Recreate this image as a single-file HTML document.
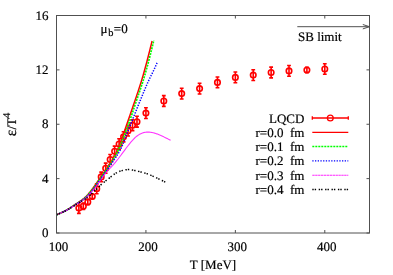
<!DOCTYPE html>
<html><head><meta charset="utf-8"><title>chart</title>
<style>html,body{margin:0;padding:0;background:#fff}svg{display:block}text{text-rendering:geometricPrecision}</style></head>
<body>
<svg width="393" height="275" viewBox="0 0 393 275">
<rect x="0" y="0" width="393" height="275" fill="#fff"/>
<g stroke="#ff0000" stroke-width="1.6" fill="none">
<path d="M78.86 202.80V213.40M76.96 202.80h3.8M76.96 213.40h3.8"/>
<circle cx="78.86" cy="208.10" r="2.75"/>
<path d="M83.33 203.10V209.50M81.43 203.10h3.8M81.43 209.50h3.8"/>
<circle cx="83.33" cy="206.30" r="2.75"/>
<path d="M87.80 199.40V204.60M85.90 199.40h3.8M85.90 204.60h3.8"/>
<circle cx="87.80" cy="202.00" r="2.75"/>
<path d="M92.27 194.40V198.60M90.37 194.40h3.8M90.37 198.60h3.8"/>
<circle cx="92.27" cy="196.50" r="2.75"/>
<path d="M96.74 183.90V193.70M94.84 183.90h3.8M94.84 193.70h3.8"/>
<circle cx="96.74" cy="188.80" r="2.75"/>
<path d="M101.21 172.10V181.70M99.31 172.10h3.8M99.31 181.70h3.8"/>
<circle cx="101.21" cy="176.90" r="2.75"/>
<path d="M105.69 163.10V173.30M103.79 163.10h3.8M103.79 173.30h3.8"/>
<circle cx="105.69" cy="168.20" r="2.75"/>
<path d="M110.16 154.50V164.50M108.26 154.50h3.8M108.26 164.50h3.8"/>
<circle cx="110.16" cy="159.50" r="2.75"/>
<path d="M114.63 146.10V156.30M112.73 146.10h3.8M112.73 156.30h3.8"/>
<circle cx="114.63" cy="151.20" r="2.75"/>
<path d="M119.10 138.80V149.20M117.20 138.80h3.8M117.20 149.20h3.8"/>
<circle cx="119.10" cy="144.00" r="2.75"/>
<path d="M123.57 131.70V141.90M121.67 131.70h3.8M121.67 141.90h3.8"/>
<circle cx="123.57" cy="136.80" r="2.75"/>
<path d="M128.04 125.40V136.00M126.14 125.40h3.8M126.14 136.00h3.8"/>
<circle cx="128.04" cy="130.70" r="2.75"/>
<path d="M132.51 119.80V130.60M130.61 119.80h3.8M130.61 130.60h3.8"/>
<circle cx="132.51" cy="125.20" r="2.75"/>
<path d="M136.99 116.30V127.10M135.09 116.30h3.8M135.09 127.10h3.8"/>
<circle cx="136.99" cy="121.70" r="2.75"/>
<path d="M145.93 107.70V118.50M144.03 107.70h3.8M144.03 118.50h3.8"/>
<circle cx="145.93" cy="113.10" r="2.75"/>
<path d="M163.81 95.60V106.40M161.91 95.60h3.8M161.91 106.40h3.8"/>
<circle cx="163.81" cy="101.00" r="2.75"/>
<path d="M181.70 88.20V99.00M179.80 88.20h3.8M179.80 99.00h3.8"/>
<circle cx="181.70" cy="93.60" r="2.75"/>
<path d="M199.59 83.20V94.00M197.69 83.20h3.8M197.69 94.00h3.8"/>
<circle cx="199.59" cy="88.60" r="2.75"/>
<path d="M217.47 77.00V87.80M215.57 77.00h3.8M215.57 87.80h3.8"/>
<circle cx="217.47" cy="82.40" r="2.75"/>
<path d="M235.36 72.00V82.80M233.46 72.00h3.8M233.46 82.80h3.8"/>
<circle cx="235.36" cy="77.40" r="2.75"/>
<path d="M253.24 69.70V80.50M251.34 69.70h3.8M251.34 80.50h3.8"/>
<circle cx="253.24" cy="75.10" r="2.75"/>
<path d="M271.13 67.10V77.90M269.23 67.10h3.8M269.23 77.90h3.8"/>
<circle cx="271.13" cy="72.50" r="2.75"/>
<path d="M289.01 65.50V76.30M287.11 65.50h3.8M287.11 76.30h3.8"/>
<circle cx="289.01" cy="70.90" r="2.75"/>
<path d="M306.90 67.40V72.60M305.00 67.40h3.8M305.00 72.60h3.8"/>
<circle cx="306.90" cy="70.00" r="2.75"/>
<path d="M324.79 63.80V74.20M322.89 63.80h3.8M322.89 74.20h3.8"/>
<circle cx="324.79" cy="69.00" r="2.75"/>
</g>
<path d="M56.50 214.80 L56.98 214.60 L57.46 214.40 L57.94 214.20 L58.42 214.00 L58.90 213.80 L59.38 213.59 L59.86 213.38 L60.34 213.18 L60.82 212.96 L61.30 212.75 L61.78 212.53 L62.26 212.31 L62.75 212.08 L63.23 211.85 L63.71 211.61 L64.19 211.37 L64.67 211.13 L65.15 210.88 L65.63 210.62 L66.11 210.35 L66.59 210.08 L67.07 209.80 L67.55 209.52 L68.03 209.23 L68.51 208.93 L68.99 208.63 L69.47 208.32 L69.95 208.02 L70.43 207.70 L70.91 207.39 L71.39 207.07 L71.87 206.75 L72.35 206.43 L72.83 206.10 L73.31 205.78 L73.79 205.45 L74.27 205.13 L74.76 204.80 L75.24 204.48 L75.72 204.16 L76.20 203.84 L76.68 203.52 L77.16 203.20 L77.64 202.88 L78.12 202.57 L78.60 202.25 L79.08 201.93 L79.56 201.61 L80.04 201.28 L80.52 200.95 L81.00 200.61 L81.48 200.27 L81.96 199.91 L82.44 199.55 L82.92 199.18 L83.40 198.80 L83.88 198.40 L84.36 198.00 L84.84 197.57 L85.32 197.14 L85.80 196.69 L86.28 196.22 L86.77 195.73 L87.25 195.22 L87.73 194.70 L88.21 194.16 L88.69 193.61 L89.17 193.04 L89.65 192.46 L90.13 191.86 L90.61 191.26 L91.09 190.64 L91.57 190.01 L92.05 189.37 L92.53 188.73 L93.01 188.07 L93.49 187.41 L93.97 186.74 L94.45 186.07 L94.93 185.39 L95.41 184.71 L95.89 184.02 L96.37 183.33 L96.85 182.64 L97.33 181.95 L97.81 181.27 L98.29 180.58 L98.78 179.89 L99.26 179.21 L99.74 178.52 L100.22 177.84 L100.70 177.15 L101.18 176.47 L101.66 175.78 L102.14 175.10 L102.62 174.41 L103.10 173.72 L103.58 173.04 L104.06 172.35 L104.54 171.65 L105.02 170.96 L105.50 170.26 L105.98 169.57 L106.46 168.86 L106.94 168.16 L107.42 167.45 L107.90 166.74 L108.38 166.02 L108.86 165.30 L109.34 164.58 L109.82 163.85 L110.31 163.10 L110.79 162.35 L111.27 161.58 L111.75 160.80 L112.23 160.01 L112.71 159.19 L113.19 158.36 L113.67 157.51 L114.15 156.63 L114.63 155.73 L115.11 154.80 L115.59 153.84 L116.07 152.86 L116.55 151.84 L117.03 150.79 L117.51 149.70 L117.99 148.58 L118.47 147.43 L118.95 146.24 L119.43 145.02 L119.91 143.78 L120.39 142.51 L120.87 141.22 L121.35 139.90 L121.83 138.58 L122.32 137.23 L122.80 135.87 L123.28 134.51 L123.76 133.14 L124.24 131.76 L124.72 130.38 L125.20 128.99 L125.68 127.61 L126.16 126.23 L126.64 124.84 L127.12 123.46 L127.60 122.07 L128.08 120.68 L128.56 119.29 L129.04 117.90 L129.52 116.51 L130.00 115.12 L130.48 113.73 L130.96 112.33 L131.44 110.94 L131.92 109.54 L132.40 108.15 L132.88 106.75 L133.36 105.35 L133.84 103.95 L134.33 102.55 L134.81 101.15 L135.29 99.75 L135.77 98.35 L136.25 96.94 L136.73 95.53 L137.21 94.11 L137.69 92.68 L138.17 91.25 L138.65 89.80 L139.13 88.33 L139.61 86.85 L140.09 85.35 L140.57 83.84 L141.05 82.30 L141.53 80.73 L142.01 79.14 L142.49 77.53 L142.97 75.88 L143.45 74.21 L143.93 72.51 L144.41 70.78 L144.89 69.04 L145.37 67.27 L145.85 65.48 L146.34 63.67 L146.82 61.84 L147.30 60.00 L147.78 58.14 L148.26 56.27 L148.74 54.39 L149.22 52.49 L149.70 50.59 L150.18 48.68 L150.66 46.77 L151.14 44.85 L151.62 42.92 L152.10 41.00" stroke="#ff0000" stroke-width="1.5" fill="none"/>
<path d="M56.50 214.80 L56.99 214.61 L57.48 214.41 L57.97 214.21 L58.46 214.01 L58.94 213.80 L59.43 213.59 L59.92 213.38 L60.41 213.16 L60.90 212.94 L61.39 212.72 L61.88 212.50 L62.37 212.27 L62.86 212.04 L63.35 211.81 L63.83 211.57 L64.32 211.33 L64.81 211.08 L65.30 210.83 L65.79 210.58 L66.28 210.31 L66.77 210.04 L67.26 209.76 L67.75 209.47 L68.23 209.18 L68.72 208.88 L69.21 208.57 L69.70 208.27 L70.19 207.96 L70.68 207.65 L71.17 207.34 L71.66 207.02 L72.15 206.71 L72.64 206.38 L73.12 206.06 L73.61 205.73 L74.10 205.40 L74.59 205.08 L75.08 204.75 L75.57 204.42 L76.06 204.10 L76.55 203.78 L77.04 203.47 L77.52 203.15 L78.01 202.84 L78.50 202.53 L78.99 202.21 L79.48 201.89 L79.97 201.56 L80.46 201.23 L80.95 200.88 L81.44 200.53 L81.93 200.18 L82.41 199.82 L82.90 199.46 L83.39 199.09 L83.88 198.71 L84.37 198.31 L84.86 197.91 L85.35 197.48 L85.84 197.05 L86.33 196.59 L86.81 196.11 L87.30 195.61 L87.79 195.09 L88.28 194.56 L88.77 194.01 L89.26 193.46 L89.75 192.89 L90.24 192.32 L90.73 191.74 L91.22 191.14 L91.70 190.52 L92.19 189.89 L92.68 189.24 L93.17 188.58 L93.66 187.92 L94.15 187.24 L94.64 186.57 L95.13 185.90 L95.62 185.22 L96.10 184.54 L96.59 183.85 L97.08 183.15 L97.57 182.45 L98.06 181.75 L98.55 181.04 L99.04 180.33 L99.53 179.62 L100.02 178.92 L100.51 178.22 L100.99 177.52 L101.48 176.83 L101.97 176.13 L102.46 175.44 L102.95 174.74 L103.44 174.04 L103.93 173.34 L104.42 172.64 L104.91 171.94 L105.39 171.23 L105.88 170.52 L106.37 169.82 L106.86 169.12 L107.35 168.42 L107.84 167.71 L108.33 166.99 L108.82 166.26 L109.31 165.52 L109.79 164.76 L110.28 163.98 L110.77 163.20 L111.26 162.42 L111.75 161.63 L112.24 160.84 L112.73 160.03 L113.22 159.22 L113.71 158.40 L114.20 157.56 L114.68 156.71 L115.17 155.84 L115.66 154.96 L116.15 154.06 L116.64 153.14 L117.13 152.20 L117.62 151.24 L118.11 150.25 L118.60 149.23 L119.08 148.18 L119.57 147.09 L120.06 145.98 L120.55 144.84 L121.04 143.68 L121.53 142.49 L122.02 141.29 L122.51 140.07 L123.00 138.83 L123.49 137.57 L123.97 136.31 L124.46 135.04 L124.95 133.76 L125.44 132.47 L125.93 131.18 L126.42 129.89 L126.91 128.57 L127.40 127.24 L127.89 125.89 L128.37 124.53 L128.86 123.15 L129.35 121.76 L129.84 120.35 L130.33 118.93 L130.82 117.51 L131.31 116.07 L131.80 114.63 L132.29 113.18 L132.78 111.73 L133.26 110.27 L133.75 108.81 L134.24 107.34 L134.73 105.88 L135.22 104.42 L135.71 102.95 L136.20 101.49 L136.69 100.04 L137.18 98.59 L137.66 97.15 L138.15 95.72 L138.64 94.29 L139.13 92.86 L139.62 91.43 L140.11 89.98 L140.60 88.53 L141.09 87.06 L141.58 85.58 L142.07 84.07 L142.55 82.54 L143.04 80.98 L143.53 79.39 L144.02 77.77 L144.51 76.11 L145.00 74.43 L145.49 72.72 L145.98 71.00 L146.47 69.25 L146.95 67.47 L147.44 65.68 L147.93 63.86 L148.42 62.02 L148.91 60.16 L149.40 58.27 L149.89 56.36 L150.38 54.43 L150.87 52.48 L151.36 50.50 L151.84 48.51 L152.33 46.49 L152.82 44.45 L153.31 42.38 L153.80 40.30" stroke="#00ff00" stroke-width="1.7" fill="none" stroke-dasharray="2 1"/>
<path d="M56.50 214.80 L57.01 214.60 L57.51 214.40 L58.02 214.19 L58.53 213.98 L59.04 213.77 L59.54 213.55 L60.05 213.33 L60.56 213.11 L61.06 212.88 L61.57 212.65 L62.08 212.42 L62.58 212.19 L63.09 211.95 L63.60 211.71 L64.11 211.46 L64.61 211.21 L65.12 210.96 L65.63 210.70 L66.13 210.44 L66.64 210.17 L67.15 209.89 L67.65 209.60 L68.16 209.31 L68.67 209.01 L69.18 208.70 L69.68 208.38 L70.19 208.07 L70.70 207.74 L71.20 207.42 L71.71 207.10 L72.22 206.78 L72.73 206.46 L73.23 206.13 L73.74 205.81 L74.25 205.48 L74.75 205.15 L75.26 204.82 L75.77 204.48 L76.27 204.15 L76.78 203.82 L77.29 203.48 L77.80 203.15 L78.30 202.82 L78.81 202.50 L79.32 202.18 L79.82 201.86 L80.33 201.53 L80.84 201.20 L81.34 200.86 L81.85 200.52 L82.36 200.16 L82.87 199.79 L83.37 199.40 L83.88 199.01 L84.39 198.60 L84.89 198.19 L85.40 197.76 L85.91 197.32 L86.42 196.87 L86.92 196.40 L87.43 195.93 L87.94 195.43 L88.44 194.92 L88.95 194.39 L89.46 193.83 L89.96 193.25 L90.47 192.66 L90.98 192.05 L91.49 191.42 L91.99 190.79 L92.50 190.15 L93.01 189.50 L93.51 188.85 L94.02 188.19 L94.53 187.50 L95.03 186.81 L95.54 186.10 L96.05 185.39 L96.56 184.67 L97.06 183.94 L97.57 183.21 L98.08 182.49 L98.58 181.77 L99.09 181.05 L99.60 180.33 L100.11 179.60 L100.61 178.88 L101.12 178.15 L101.63 177.42 L102.13 176.70 L102.64 175.97 L103.15 175.25 L103.65 174.53 L104.16 173.81 L104.67 173.10 L105.18 172.40 L105.68 171.70 L106.19 171.01 L106.70 170.31 L107.20 169.62 L107.71 168.93 L108.22 168.24 L108.72 167.54 L109.23 166.84 L109.74 166.14 L110.25 165.43 L110.75 164.71 L111.26 163.98 L111.77 163.24 L112.27 162.50 L112.78 161.76 L113.29 161.02 L113.79 160.29 L114.30 159.55 L114.81 158.81 L115.32 158.07 L115.82 157.32 L116.33 156.55 L116.84 155.77 L117.34 154.97 L117.85 154.15 L118.36 153.31 L118.87 152.44 L119.37 151.54 L119.88 150.61 L120.39 149.64 L120.89 148.61 L121.40 147.53 L121.91 146.39 L122.41 145.21 L122.92 143.99 L123.43 142.74 L123.94 141.46 L124.44 140.16 L124.95 138.85 L125.46 137.52 L125.96 136.20 L126.47 134.88 L126.98 133.58 L127.48 132.29 L127.99 131.02 L128.50 129.77 L129.01 128.51 L129.51 127.24 L130.02 125.98 L130.53 124.71 L131.03 123.43 L131.54 122.16 L132.05 120.89 L132.56 119.62 L133.06 118.35 L133.57 117.08 L134.08 115.81 L134.58 114.53 L135.09 113.25 L135.60 111.97 L136.10 110.70 L136.61 109.42 L137.12 108.15 L137.63 106.88 L138.13 105.62 L138.64 104.37 L139.15 103.13 L139.65 101.90 L140.16 100.66 L140.67 99.43 L141.17 98.19 L141.68 96.96 L142.19 95.73 L142.70 94.50 L143.20 93.27 L143.71 92.06 L144.22 90.84 L144.72 89.64 L145.23 88.44 L145.74 87.25 L146.25 86.07 L146.75 84.90 L147.26 83.74 L147.77 82.60 L148.27 81.46 L148.78 80.35 L149.29 79.24 L149.79 78.16 L150.30 77.12 L150.81 76.10 L151.32 75.09 L151.82 74.09 L152.33 73.09 L152.84 72.07 L153.34 71.02 L153.85 69.94 L154.36 68.86 L154.86 67.76 L155.37 66.65 L155.88 65.53 L156.39 64.40 L156.89 63.25 L157.40 62.10" stroke="#0000ff" stroke-width="1.5" fill="none" stroke-dasharray="1.3 1.4"/>
<path d="M56.50 214.80 L57.07 214.56 L57.65 214.32 L58.22 214.09 L58.79 213.85 L59.37 213.60 L59.94 213.36 L60.51 213.12 L61.09 212.87 L61.66 212.62 L62.23 212.37 L62.81 212.11 L63.38 211.85 L63.95 211.58 L64.53 211.30 L65.10 211.02 L65.67 210.73 L66.25 210.43 L66.82 210.13 L67.39 209.81 L67.97 209.48 L68.54 209.15 L69.11 208.81 L69.69 208.47 L70.26 208.12 L70.83 207.76 L71.41 207.40 L71.98 207.04 L72.55 206.67 L73.13 206.30 L73.70 205.93 L74.27 205.57 L74.85 205.20 L75.42 204.83 L75.99 204.46 L76.57 204.10 L77.14 203.74 L77.71 203.37 L78.29 203.01 L78.86 202.65 L79.43 202.29 L80.01 201.92 L80.58 201.55 L81.15 201.18 L81.73 200.80 L82.30 200.42 L82.87 200.02 L83.45 199.62 L84.02 199.19 L84.59 198.75 L85.17 198.29 L85.74 197.81 L86.32 197.31 L86.89 196.79 L87.46 196.25 L88.04 195.69 L88.61 195.12 L89.18 194.54 L89.76 193.94 L90.33 193.33 L90.90 192.70 L91.48 192.07 L92.05 191.43 L92.62 190.77 L93.20 190.09 L93.77 189.41 L94.34 188.71 L94.92 188.00 L95.49 187.27 L96.06 186.53 L96.64 185.77 L97.21 184.99 L97.78 184.20 L98.36 183.39 L98.93 182.57 L99.50 181.73 L100.08 180.89 L100.65 180.05 L101.22 179.20 L101.80 178.36 L102.37 177.52 L102.94 176.69 L103.52 175.88 L104.09 175.08 L104.66 174.31 L105.24 173.56 L105.81 172.83 L106.38 172.14 L106.96 171.48 L107.53 170.84 L108.10 170.22 L108.68 169.62 L109.25 169.03 L109.82 168.44 L110.40 167.86 L110.97 167.27 L111.54 166.67 L112.12 166.06 L112.69 165.44 L113.26 164.80 L113.84 164.15 L114.41 163.48 L114.98 162.81 L115.56 162.12 L116.13 161.42 L116.70 160.71 L117.28 159.99 L117.85 159.26 L118.42 158.52 L119.00 157.77 L119.57 157.02 L120.14 156.26 L120.72 155.49 L121.29 154.72 L121.86 153.95 L122.44 153.17 L123.01 152.40 L123.58 151.62 L124.16 150.84 L124.73 150.07 L125.30 149.30 L125.88 148.53 L126.45 147.77 L127.02 147.01 L127.60 146.26 L128.17 145.52 L128.74 144.79 L129.32 144.07 L129.89 143.36 L130.46 142.66 L131.04 141.98 L131.61 141.32 L132.18 140.67 L132.76 140.03 L133.33 139.42 L133.90 138.83 L134.48 138.26 L135.05 137.71 L135.62 137.18 L136.20 136.68 L136.77 136.21 L137.34 135.77 L137.92 135.35 L138.49 134.96 L139.06 134.60 L139.64 134.26 L140.21 133.96 L140.78 133.67 L141.36 133.42 L141.93 133.18 L142.51 132.98 L143.08 132.79 L143.65 132.63 L144.23 132.49 L144.80 132.37 L145.37 132.28 L145.95 132.20 L146.52 132.14 L147.09 132.11 L147.67 132.09 L148.24 132.09 L148.81 132.11 L149.39 132.15 L149.96 132.20 L150.53 132.27 L151.11 132.35 L151.68 132.45 L152.25 132.56 L152.83 132.69 L153.40 132.83 L153.97 132.98 L154.55 133.14 L155.12 133.31 L155.69 133.49 L156.27 133.69 L156.84 133.89 L157.41 134.10 L157.99 134.32 L158.56 134.55 L159.13 134.78 L159.71 135.02 L160.28 135.27 L160.85 135.52 L161.43 135.78 L162.00 136.04 L162.57 136.31 L163.15 136.58 L163.72 136.85 L164.29 137.13 L164.87 137.41 L165.44 137.69 L166.01 137.98 L166.59 138.26 L167.16 138.55 L167.73 138.84 L168.31 139.13 L168.88 139.42 L169.45 139.71 L170.03 140.01 L170.60 140.30" stroke="#ff00ff" stroke-width="1.1" fill="none" stroke-opacity="0.8"/>
<path d="M56.50 214.80 L57.05 214.57 L57.60 214.34 L58.15 214.11 L58.70 213.89 L59.25 213.66 L59.80 213.42 L60.35 213.19 L60.90 212.96 L61.45 212.72 L62.00 212.48 L62.55 212.24 L63.10 212.00 L63.65 211.75 L64.20 211.49 L64.75 211.23 L65.30 210.96 L65.85 210.69 L66.40 210.40 L66.95 210.11 L67.49 209.81 L68.04 209.50 L68.59 209.19 L69.14 208.87 L69.69 208.55 L70.24 208.22 L70.79 207.88 L71.34 207.55 L71.89 207.21 L72.44 206.86 L72.99 206.52 L73.54 206.17 L74.09 205.82 L74.64 205.47 L75.19 205.12 L75.74 204.77 L76.29 204.42 L76.84 204.07 L77.39 203.72 L77.94 203.38 L78.49 203.03 L79.04 202.69 L79.59 202.36 L80.14 202.03 L80.69 201.70 L81.24 201.37 L81.79 201.05 L82.34 200.72 L82.89 200.39 L83.44 200.06 L83.99 199.72 L84.54 199.38 L85.09 199.03 L85.64 198.66 L86.19 198.29 L86.74 197.91 L87.29 197.51 L87.84 197.09 L88.39 196.66 L88.94 196.21 L89.48 195.75 L90.03 195.27 L90.58 194.78 L91.13 194.27 L91.68 193.76 L92.23 193.23 L92.78 192.70 L93.33 192.16 L93.88 191.62 L94.43 191.07 L94.98 190.51 L95.53 189.96 L96.08 189.40 L96.63 188.85 L97.18 188.30 L97.73 187.76 L98.28 187.22 L98.83 186.69 L99.38 186.17 L99.93 185.66 L100.48 185.17 L101.03 184.69 L101.58 184.21 L102.13 183.75 L102.68 183.30 L103.23 182.85 L103.78 182.41 L104.33 181.97 L104.88 181.53 L105.43 181.10 L105.98 180.67 L106.53 180.23 L107.08 179.80 L107.63 179.37 L108.18 178.93 L108.73 178.50 L109.28 178.06 L109.83 177.63 L110.38 177.19 L110.93 176.76 L111.47 176.32 L112.02 175.89 L112.57 175.46 L113.12 175.04 L113.67 174.62 L114.22 174.22 L114.77 173.83 L115.32 173.46 L115.87 173.11 L116.42 172.79 L116.97 172.48 L117.52 172.20 L118.07 171.94 L118.62 171.71 L119.17 171.49 L119.72 171.28 L120.27 171.09 L120.82 170.92 L121.37 170.75 L121.92 170.60 L122.47 170.46 L123.02 170.32 L123.57 170.19 L124.12 170.07 L124.67 169.97 L125.22 169.87 L125.77 169.79 L126.32 169.72 L126.87 169.66 L127.42 169.63 L127.97 169.60 L128.52 169.60 L129.07 169.62 L129.62 169.65 L130.17 169.70 L130.72 169.76 L131.27 169.83 L131.82 169.92 L132.37 170.02 L132.92 170.12 L133.46 170.23 L134.01 170.35 L134.56 170.47 L135.11 170.59 L135.66 170.72 L136.21 170.85 L136.76 170.97 L137.31 171.11 L137.86 171.24 L138.41 171.37 L138.96 171.51 L139.51 171.64 L140.06 171.78 L140.61 171.92 L141.16 172.06 L141.71 172.21 L142.26 172.35 L142.81 172.50 L143.36 172.65 L143.91 172.80 L144.46 172.96 L145.01 173.12 L145.56 173.29 L146.11 173.46 L146.66 173.64 L147.21 173.83 L147.76 174.02 L148.31 174.22 L148.86 174.44 L149.41 174.65 L149.96 174.88 L150.51 175.11 L151.06 175.35 L151.61 175.59 L152.16 175.83 L152.71 176.08 L153.26 176.33 L153.81 176.59 L154.36 176.84 L154.91 177.10 L155.45 177.36 L156.00 177.62 L156.55 177.88 L157.10 178.15 L157.65 178.41 L158.20 178.68 L158.75 178.94 L159.30 179.21 L159.85 179.47 L160.40 179.74 L160.95 180.01 L161.50 180.27 L162.05 180.54 L162.60 180.80 L163.15 181.07 L163.70 181.34 L164.25 181.60 L164.80 181.87 L165.35 182.13 L165.90 182.40" stroke="#000" stroke-width="1.5" fill="none" stroke-dasharray="1.4 1 1.4 2.6"/>
<rect x="56.5" y="15.5" width="313.0" height="217.5" fill="none" stroke="#505050" stroke-width="1"/>
<path d="M56.50 233.0v-3M56.50 15.5v3M145.93 233.0v-3M145.93 15.5v3M235.36 233.0v-3M235.36 15.5v3M324.79 233.0v-3M324.79 15.5v3M56.5 233.00h3M369.5 233.00h-3M56.5 178.62h3M369.5 178.62h-3M56.5 124.25h3M369.5 124.25h-3M56.5 69.88h3M369.5 69.88h-3M56.5 15.50h3M369.5 15.50h-3" stroke="#505050" stroke-width="1" fill="none"/>
<g font-family="Liberation Serif, serif" font-size="13" fill="#000" stroke="#000" stroke-width="0.2" style="filter:grayscale(1)">
<text x="58.50" y="250.6" text-anchor="middle">100</text>
<text x="147.93" y="250.6" text-anchor="middle">200</text>
<text x="237.36" y="250.6" text-anchor="middle">300</text>
<text x="326.79" y="250.6" text-anchor="middle">400</text>
<text x="48.4" y="237.20" text-anchor="end">0</text>
<text x="48.4" y="182.82" text-anchor="end">4</text>
<text x="48.4" y="128.45" text-anchor="end">8</text>
<text x="48.4" y="74.08" text-anchor="end">12</text>
<text x="48.4" y="19.70" text-anchor="end">16</text>
<text x="213" y="269.4" text-anchor="middle">T [MeV]</text>
<g transform="translate(16.2,124.5) rotate(-90)"><text x="-11.64" y="0" font-size="15.5">ε</text><text x="-5.12" y="0">/T</text><text x="6.44" y="-6" font-size="10.4">4</text></g>
<text x="100.5" y="32.7">μ</text><text x="108.3" y="36.2" font-size="10.4">b</text><text x="113.8" y="32.7">=0</text>
<text x="298" y="40.5">SB limit</text>
<text x="304.4" y="122.50" text-anchor="end" xml:space="preserve">LQCD</text>
<text x="304.4" y="136.80" text-anchor="end" xml:space="preserve">r=0.0  fm</text>
<text x="304.4" y="151.10" text-anchor="end" xml:space="preserve">r=0.1  fm</text>
<text x="304.4" y="165.40" text-anchor="end" xml:space="preserve">r=0.2  fm</text>
<text x="304.4" y="179.70" text-anchor="end" xml:space="preserve">r=0.3  fm</text>
<text x="304.4" y="194.00" text-anchor="end" xml:space="preserve">r=0.4  fm</text>
</g>
<g stroke="#ff0000" stroke-width="1.3" fill="none"><path d="M312.3 118.0H348.3M312.3 116.2v3.6M348.3 116.2v3.6"/><circle cx="330.3" cy="118.0" r="2.9"/></g>
<path d="M312.3 132.3H348.3" stroke="#ff0000" stroke-width="1.3"/>
<path d="M312.3 146.6H348.3" stroke="#00ff00" stroke-width="1.5" stroke-dasharray="2 1"/>
<path d="M312.3 160.9H348.3" stroke="#0000ff" stroke-width="1.3" stroke-dasharray="1.3 1.4"/>
<path d="M312.3 175.2H348.3" stroke="#ff00ff" stroke-width="1.1" stroke-opacity="0.85" stroke-dasharray="2.4 0.5"/>
<path d="M312.3 189.5H348.3" stroke="#000" stroke-width="1.4" stroke-dasharray="1.4 1 1.4 2.6"/>
<path d="M297.3 26.7H369.5M362.8 24.5L369.5 26.7L362.8 28.9" stroke="#505050" stroke-width="1" fill="none"/>
</svg>
</body></html>
